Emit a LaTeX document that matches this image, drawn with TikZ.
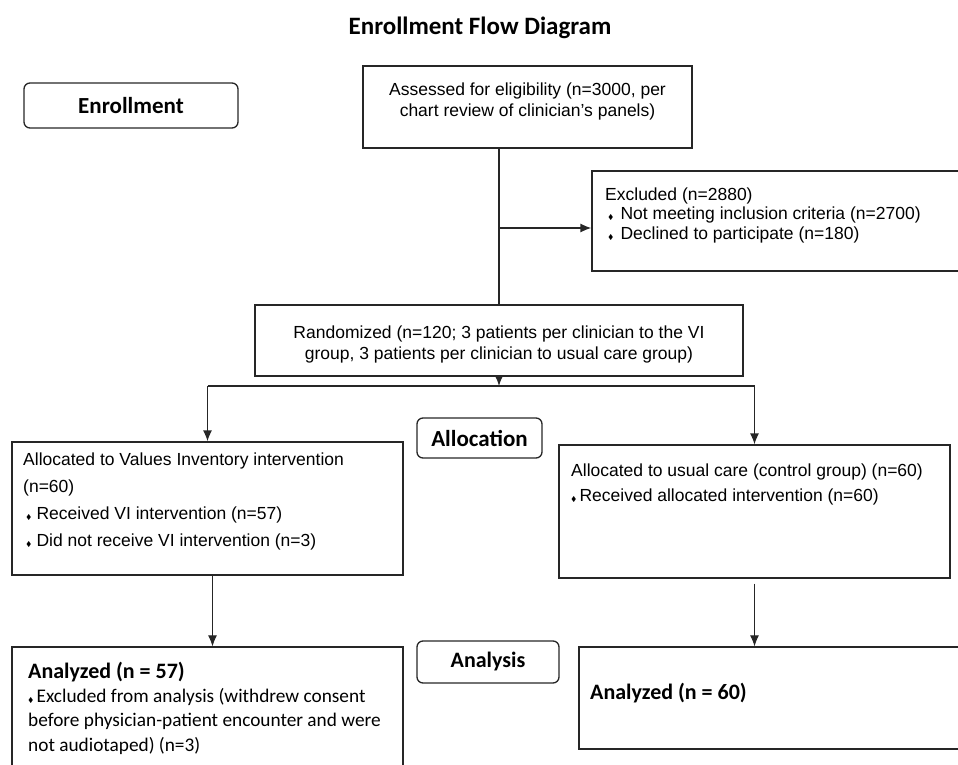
\documentclass[tikz,border=0pt]{standalone}
\usepackage{amssymb}
\usepackage{fontspec}
\setmainfont{Liberation Sans}
\newfontfamily\calfont{Carlito}
\usetikzlibrary{arrows.meta}
\newcommand{\bul}{{\fontsize{7}{7}\selectfont$\blacklozenge$}\hspace{3pt}}

\begin{document}
\begin{tikzpicture}[x=1pt, y=-1pt, >={Latex[length=11pt,width=9pt]},
	box/.style={draw=black!85, line width=1.3pt, inner sep=0pt},
	phase/.style={draw=black!85, line width=1.3pt, rounded corners=6pt, font=\calfont\bfseries\fontsize{23}{27}\selectfont},
	txt/.style={inner sep=0pt, anchor=base west, align=left, font=\fontsize{17.5}{20}\selectfont},
	conn/.style={draw=black!85, line width=1.3pt},
	thinconn/.style={draw=black!85, line width=0.9pt}]
	\useasboundingbox (0,0) rectangle (958,765);
	\clip (0,0) rectangle (958,765);
	\node[font=\calfont\bfseries\fontsize{25}{30}\selectfont] (title) at (480,28) {Enrollment Flow Diagram};
	% phase labels
	\node[phase, minimum width=214pt, minimum height=45pt] (enroll) at (131,105.5) {Enrollment};
	\node[phase, minimum width=125pt, minimum height=40pt] (alloc) at (479.5,438) {Allocation};
	\node[phase, minimum width=142pt, minimum height=42pt, font=\calfont\bfseries\fontsize{22}{26}\selectfont] (analysis) at (488,662) {Analysis};
	% enrollment
	\node[box, minimum width=329pt, minimum height=82pt] (assess) at (527.5,107) {};
	\node[txt, anchor=base, align=center, font=\fontsize{17.5}{21}\selectfont] (assesstxt) at (527.5,117) {Assessed for eligibility (n=3000, per\\chart review of clinician's panels)};
	\node[box, minimum width=398pt, minimum height=100pt] (excl) at (791,221) {};
	\node[txt, font=\fontsize{17.5}{19.5}\selectfont] (excltxt) at (605,239) {Excluded (n=2880)\\\hspace*{3pt}\bul\hspace{4pt}Not meeting inclusion criteria (n=2700)\\\hspace*{3pt}\bul\hspace{4pt}Declined to participate (n=180)};
	\node[box, minimum width=488pt, minimum height=71pt] (rand) at (499,340.5) {};
	\node[txt, anchor=base, align=center, font=\fontsize{17.5}{21}\selectfont] (randtxt) at (499,359) {Randomized (n=120; 3 patients per clinician to the VI\\group, 3 patients per clinician to usual care group)};
	% allocation
	\node[box, minimum width=391pt, minimum height=133pt] (vi) at (207.5,508.5) {};
	\node[txt, font=\fontsize{17.5}{26.7}\selectfont] (vitxt) at (23,546) {Allocated to Values Inventory intervention\\(n=60)\\\hspace*{3pt}\bul\hspace{2pt}Received VI intervention (n=57)\\\hspace*{3pt}\bul\hspace{2pt}Did not receive VI intervention (n=3)};
	\node[box, minimum width=391pt, minimum height=133pt] (uc) at (754.5,511.5) {};
	\node[txt, font=\fontsize{17.5}{25}\selectfont] (uctxt) at (571,501) {Allocated to usual care (control group) (n=60)\\\bul Received allocated intervention (n=60)};
	% analysis
	\node[box, minimum width=391pt, minimum height=153pt] (anvi) at (207.5,723.5) {};
	\node[txt, font=\calfont\fontsize{19.3}{24.3}\selectfont] (anvitxt) at (28,751) {{\bfseries\fontsize{22}{24}\selectfont Analyzed (n = 57)}\\\bul Excluded from analysis (withdrew consent\\before physician-patient encounter and were\\not audiotaped) (n=3)};
	\node[box, minimum width=411pt, minimum height=102pt] (anuc) at (784.5,698) {};
	\node[txt, font=\calfont\bfseries\fontsize{22}{26}\selectfont] (anuctxt) at (590,699) {Analyzed (n = 60)};
	% connectors
	\coordinate (split) at (499,386);
	\coordinate (exclarr) at ([yshift=-7pt]excl.west);
	\draw[conn] (rand.north |- assess.south) -- (rand.north);
	\draw[conn, ->] (exclarr -| rand.north) -- (exclarr);
	\draw[conn, ->] (rand.south) -- (split);
	\draw[conn] (vi.north |- split) -- (uc.north |- split);
	\foreach \b in {vi,uc} {\draw[conn, ->] (\b.north |- split) -- (\b.north);}
	\draw[thinconn, ->] ([xshift=5pt]vi.south) -- ([xshift=5pt]vi.south |- anvi.north);
	\draw[thinconn, ->] ([yshift=-5pt]uc.south) -- (uc.south |- anuc.north);
\end{tikzpicture}
\end{document}
